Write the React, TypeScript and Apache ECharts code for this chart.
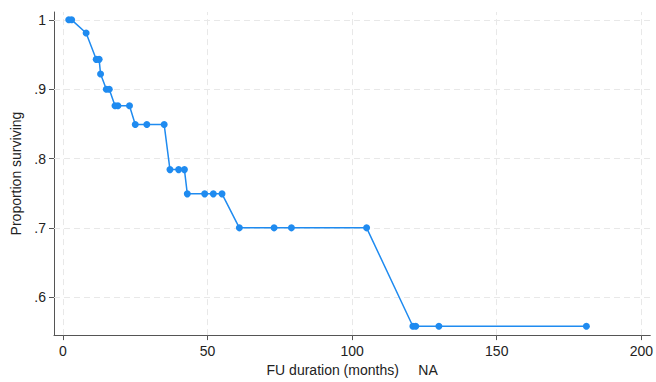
import React, { useEffect, useRef } from "react";
import * as echarts from "echarts";

const months = [2, 3, 8, 11.5, 12.5, 13, 15, 16, 18, 19, 23, 25, 29, 35, 37, 40, 42, 43, 49, 52, 55, 61, 73, 79, 105, 121, 122, 130, 181];
const survival = [1, 1, 0.981, 0.943, 0.943, 0.922, 0.9, 0.9, 0.876, 0.876, 0.876, 0.849, 0.849, 0.849, 0.784, 0.784, 0.784, 0.749, 0.749, 0.749, 0.749, 0.7, 0.7, 0.7, 0.7, 0.558, 0.558, 0.558, 0.558];
const xTicks = [0, 50, 100, 150, 200];
const yTicks = [0.6, 0.7, 0.8, 0.9, 1];
const xTitle = "FU duration (months)     NA";
const yTitle = "Proportion surviving";

const FONT = "Liberation Sans, Arial, sans-serif";
const BLUE = "#1f8bf0";

export default function App() {
  const ref = useRef<HTMLDivElement>(null);
  useEffect(() => {
    if (!ref.current) return;
    const chart = echarts.init(ref.current, null, { renderer: "svg" });
    const gridStyle = { color: "#e8e8e8", type: [6, 4] as any, width: 1 };
    chart.setOption({
      animation: false,
      grid: { left: 54, right: 3, top: 12, bottom: 40 },
      xAxis: {
        type: "value",
        min: -3.1,
        max: 203.1,
        name: xTitle,
        nameLocation: "middle",
        nameGap: 25,
        nameTextStyle: { fontFamily: FONT, fontSize: 14, color: "#222" },
        axisLine: { show: true, onZero: false, lineStyle: { color: "#555", width: 1 } },
        axisTick: { show: true, length: 5, customValues: xTicks, lineStyle: { color: "#555" } },
        axisLabel: { customValues: xTicks, margin: 9, fontFamily: FONT, fontSize: 14, color: "#222" },
        splitLine: { show: false },
      },
      yAxis: {
        type: "value",
        min: 0.5453,
        max: 1.0113,
        name: yTitle,
        nameLocation: "middle",
        nameGap: 29,
        nameTextStyle: { fontFamily: FONT, fontSize: 14, color: "#222" },
        axisLine: { show: true, onZero: false, lineStyle: { color: "#555", width: 1 } },
        axisTick: { show: true, length: 5, customValues: yTicks, lineStyle: { color: "#555" } },
        axisLabel: {
          customValues: yTicks,
          margin: 8,
          fontFamily: FONT,
          fontSize: 14,
          color: "#222",
          formatter: (v: number) => (Math.abs(v - 1) < 1e-9 ? "1" : v.toFixed(1).replace(/^0/, "")),
        },
        splitLine: { show: false },
      },
      series: [
        {
          type: "line",
          data: months.map((m, i) => [m, survival[i]]),
          symbol: "circle",
          symbolSize: 7,
          showSymbol: true,
          itemStyle: { color: BLUE },
          lineStyle: { color: BLUE, width: 1.5 },
          z: 3,
          markLine: {
            silent: true,
            symbol: "none",
            label: { show: false },
            lineStyle: gridStyle,
            z: 1,
            data: [
              ...xTicks.map((v) => ({ xAxis: v })),
              ...yTicks.map((v) => ({ yAxis: v })),
            ],
          },
        },
      ],
    });
    return () => chart.dispose();
  }, []);
  return <div ref={ref} style={{ width: 656, height: 382, position: "absolute", left: 0, top: 0 }} />;
}
